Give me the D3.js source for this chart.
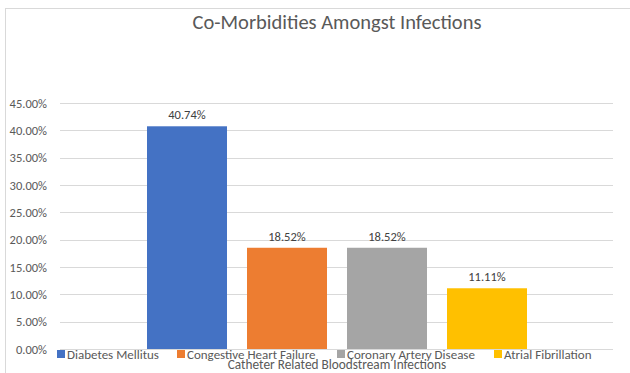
<!DOCTYPE html>
<html>
<head>
<meta charset="utf-8">
<script src="https://cdn.jsdelivr.net/npm/d3@7"></script>
<style>
  body { margin: 0; background: #fff; }
  svg { display: block; font-family: Carlito, Lato, "Open Sans", sans-serif; }
</style>
</head>
<body>
<div id="chart"></div>
<script>
const categories = ['Diabetes Mellitus', 'Congestive Heart Failure', 'Coronary Artery Disease', 'Atrial Fibrillation'];
const values = [40.74, 18.52, 18.52, 11.11];
const colors = ['#4472c4', '#ed7d31', '#a5a5a5', '#ffc000'];
const yTicks = [0, 5, 10, 15, 20, 25, 30, 35, 40, 45];
const title = 'Co-Morbidities Amongst Infections';
const axisTitle = 'Catheter Related Bloodstream Infections';

const width = 630, height = 373;
const plot = { left: 60, right: 613, top: 103, bottom: 349 };

const svg = d3.select('#chart').append('svg')
  .attr('width', width)
  .attr('height', height);

// chart frame
svg.append('rect')
  .attr('x', 5.5).attr('y', 8.5)
  .attr('width', 700).attr('height', 400)
  .attr('fill', 'none')
  .attr('stroke', '#d9d9d9');

const y = d3.scaleLinear().domain([0, 45]).range([plot.bottom, plot.top]);

// bars sit in a band centred on the single category
const x = d3.scaleBand()
  .domain(categories)
  .range([137, 537])
  .paddingInner(0.2)
  .paddingOuter(0.1);

svg.append('g')
  .attr('class', 'grid')
  .selectAll('line')
  .data(yTicks)
  .join('line')
  .attr('x1', plot.left).attr('x2', plot.right)
  .attr('y1', d => Math.round(y(d)) + 0.5)
  .attr('y2', d => Math.round(y(d)) + 0.5)
  .attr('stroke', '#d9d9d9');

const yAxis = svg.append('g')
  .attr('transform', `translate(${plot.left - 10},0)`)
  .call(d3.axisLeft(y).tickValues(yTicks).tickSize(0).tickFormat(d => d.toFixed(2) + '%'));
yAxis.select('.domain').remove();
yAxis.selectAll('text')
  .attr('fill', '#595959')
  .style('font-size', '12.5px')
  .style('font-family', 'Carlito, Lato, "Open Sans", sans-serif');

svg.append('g')
  .selectAll('rect')
  .data(categories)
  .join('rect')
  .attr('x', d => x(d))
  .attr('width', x.bandwidth())
  .attr('y', (d, i) => y(values[i]))
  .attr('height', (d, i) => y(0) - y(values[i]))
  .attr('fill', (d, i) => colors[i]);

svg.append('g')
  .selectAll('text')
  .data(categories)
  .join('text')
  .attr('x', d => x(d) + x.bandwidth() / 2)
  .attr('y', (d, i) => y(values[i]) - 7)
  .attr('text-anchor', 'middle')
  .attr('fill', '#404040')
  .style('font-size', '12.5px')
  .text((d, i) => values[i].toFixed(2) + '%');

svg.append('text')
  .attr('x', 337)
  .attr('y', 29)
  .attr('text-anchor', 'middle')
  .attr('fill', '#595959')
  .style('font-size', '20.5px')
  .text(title);

// legend
const legendX = [57, 177, 337, 494];
const legend = svg.append('g')
  .selectAll('g')
  .data(categories)
  .join('g')
  .attr('transform', (d, i) => `translate(${legendX[i]},350)`);
legend.append('rect')
  .attr('width', 8).attr('height', 8)
  .attr('fill', (d, i) => colors[i]);
legend.append('text')
  .attr('x', 10).attr('y', 8.5)
  .attr('fill', '#595959')
  .style('font-size', '13px')
  .text(d => d);

svg.append('text')
  .attr('x', 337)
  .attr('y', 369)
  .attr('text-anchor', 'middle')
  .attr('fill', '#595959')
  .style('font-size', '13.3px')
  .text(axisTitle);
</script>
</body>
</html>
